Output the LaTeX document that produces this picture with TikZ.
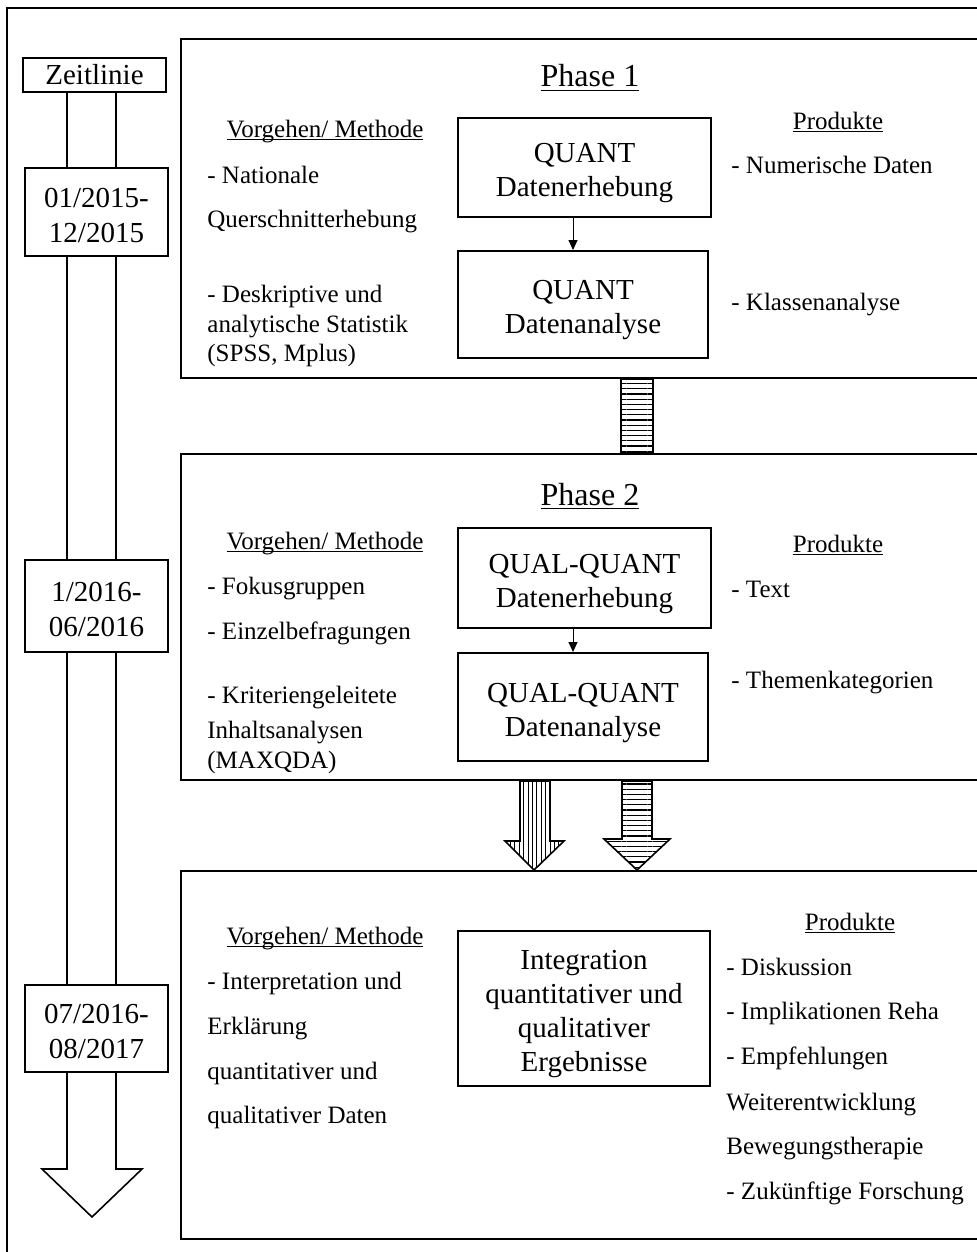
\documentclass[tikz,border=0pt]{standalone}
\usepackage{fontspec}
\setmainfont{Liberation Serif}
\usetikzlibrary{arrows.meta, patterns.meta}
\newcommand{\bodysize}{\fontsize{12.5}{15}\selectfont}
\newcommand{\boxsize}{\fontsize{14.5}{17}\selectfont}
\newcommand{\ulined}[2][-1.6pt]{\setbox0\hbox{#2}\rlap{\rule[#1]{\wd0}{0.6pt}}\box0}
\newcommand{\topstrut}[1][15.5pt]{\rule{0pt}{#1}}
\tikzset{
  frame/.style={draw, line width=1pt},
  phasebox/.style={draw, line width=1pt, minimum width=410pt, anchor=north west, inner sep=0pt},
  stepbox/.style={draw, line width=1pt, fill=white, font=\boxsize, align=center, inner sep=0pt},
  timebox/.style={draw, line width=0.9pt, fill=white, font=\fontsize{14.5}{17.5}\selectfont, align=center, minimum width=71.5pt, inner sep=0pt},
  phasetitle/.style={font=\fontsize{16}{19}\selectfont, anchor=base, inner sep=0pt},
  colhead/.style={font=\bodysize, anchor=base, inner sep=0pt},
  itemtext/.style={font=\bodysize, anchor=base west, inner sep=0pt},
  flowline/.style={-{Triangle[length=5pt,width=4.5pt]}, line width=0.5pt},
  shaftline/.style={line width=0.8pt},
  hstripes/.style={draw, line width=0.8pt, pattern={Lines[angle=0, distance=2.6pt, line width=0.6pt]}},
  vstripes/.style={draw, line width=0.8pt, pattern={Lines[angle=90, distance=2.2pt, line width=0.5pt]}}
}

\begin{document}
\begin{tikzpicture}[x=0.5pt, y=-0.5pt]
  \useasboundingbox (0,0) rectangle (977,1252);
  \draw[frame] (7,8) rectangle (1010,1290);

  % timeline
  \node[timebox, minimum height=17pt] at (94.5,75) (zeit) {Zeitlinie};
  \draw[shaftline] (zeit.south -| 67,0) -- (67,1169) -- (42,1169) -- (92,1217)
    -- (142,1169) -- (116,1169) -- (zeit.south -| 116,0);
  \node[timebox, minimum height=44pt] at (96.5,212) (dateA) {\topstrut[13pt]01/2015-\\12/2015};
  \node[timebox, minimum height=46pt] at (96.5,606) (dateB) {\topstrut[13pt]1/2016-\\06/2016};
  \node[timebox, minimum height=43.5pt] at (96.5,1028.5) (dateC) {\topstrut[13pt]07/2016-\\08/2017};

  % phase 1
  \node[phasebox, minimum height=169.5pt] at (180,38) (phaseA) {};
  \node[phasetitle] at (590,87) (titleA) {\ulined[-2pt]{Phase 1}};
  \node[colhead] at (325,137) (vorA) {\ulined{Vorgehen/ Methode}};
  \node[itemtext] at (207,183) (mA1) {- Nationale};
  \node[itemtext] at (207,227) (mA2) {Querschnitterhebung};
  \node[itemtext] at (207,302) (mA3) {- Deskriptive und};
  \node[itemtext] at (207,332) (mA4) {analytische Statistik};
  \node[itemtext] at (207,361) (mA5) {(SPSS, Mplus)};
  \node[colhead] at (838,129) (prodA) {\ulined{Produkte}};
  \node[itemtext] at (731,173) (pA1) {- Numerische Daten};
  \node[itemtext] at (731,310) (pA2) {- Klassenanalyse};
  \node[stepbox, minimum width=126.5pt, minimum height=49.5pt] at (584.5,167.5) (quantA)
    {\topstrut QUANT\\Datenerhebung};
  \node[stepbox, minimum width=125pt, minimum height=53.5pt] at (583,304.5) (quantB)
    {\topstrut QUANT\\Datenanalyse};
  \draw[flowline] (quantA.south -| 573,0) -- (quantB.north -| 573,0);

  % phase 2
  \node[phasebox, minimum height=163pt] at (180,453) (phaseB) {};
  \draw[hstripes] (phaseA.south -| 621,0) rectangle (phaseB.north -| 653,0);
  \node[phasetitle] at (590,505) (titleB) {\ulined[-2pt]{Phase 2}};
  \node[colhead] at (325,549) (vorB) {\ulined{Vorgehen/ Methode}};
  \node[itemtext] at (207,594) (mB1) {- Fokusgruppen};
  \node[itemtext] at (207,639) (mB2) {- Einzelbefragungen};
  \node[itemtext] at (207,703) (mB3) {- Kriteriengeleitete};
  \node[itemtext] at (207,738) (mB4) {Inhaltsanalysen};
  \node[itemtext] at (207,768) (mB5) {(MAXQDA)};
  \node[colhead] at (838,552) (prodB) {\ulined{Produkte}};
  \node[itemtext] at (731,597) (pB1) {- Text};
  \node[itemtext] at (731,688) (pB2) {- Themenkategorien};
  \node[stepbox, minimum width=126.5pt, minimum height=50pt] at (584.5,578) (qualA)
    {\topstrut QUAL-QUANT\\Datenerhebung};
  \node[stepbox, minimum width=125pt, minimum height=54pt] at (583,707) (qualB)
    {\topstrut QUAL-QUANT\\Datenanalyse};
  \draw[flowline] (qualA.south -| 573,0) -- (qualB.north -| 573,0);

  % phase 3
  \node[phasebox, minimum height=184pt] at (180,870) (phaseC) {};
  \draw[vstripes] (phaseB.south -| 520,0) -- (520,841) -- (505,841) -- (phaseC.north -| 534,0)
    -- (564,841) -- (550,841) -- (phaseB.south -| 550,0) -- cycle;
  \draw[hstripes] (phaseB.south -| 622,0) -- (622,839) -- (604,839) -- (phaseC.north -| 637,0)
    -- (670,839) -- (652,839) -- (phaseB.south -| 652,0) -- cycle;
  \node[colhead] at (325,944) (vorC) {\ulined{Vorgehen/ Methode}};
  \node[itemtext] at (207,989) (mC1) {- Interpretation und};
  \node[itemtext] at (207,1034) (mC2) {Erklärung};
  \node[itemtext] at (207,1079) (mC3) {quantitativer und};
  \node[itemtext] at (207,1123) (mC4) {qualitativer Daten};
  \node[colhead] at (850,930) (prodC) {\ulined{Produkte}};
  \node[itemtext] at (726,975) (pC1) {- Diskussion};
  \node[itemtext] at (726,1019) (pC2) {- Implikationen Reha};
  \node[itemtext] at (726,1064) (pC3) {- Empfehlungen};
  \node[itemtext] at (726,1110) (pC4) {Weiterentwicklung};
  \node[itemtext] at (726,1154) (pC5) {Bewegungstherapie};
  \node[itemtext] at (726,1199) (pC6) {- Zukünftige Forschung};
  \node[stepbox, minimum width=126pt, minimum height=77.5pt] at (584,1008.5) (integ)
    {\topstrut Integration\\quantitativer und\\qualitativer\\Ergebnisse};
\end{tikzpicture}
\end{document}
